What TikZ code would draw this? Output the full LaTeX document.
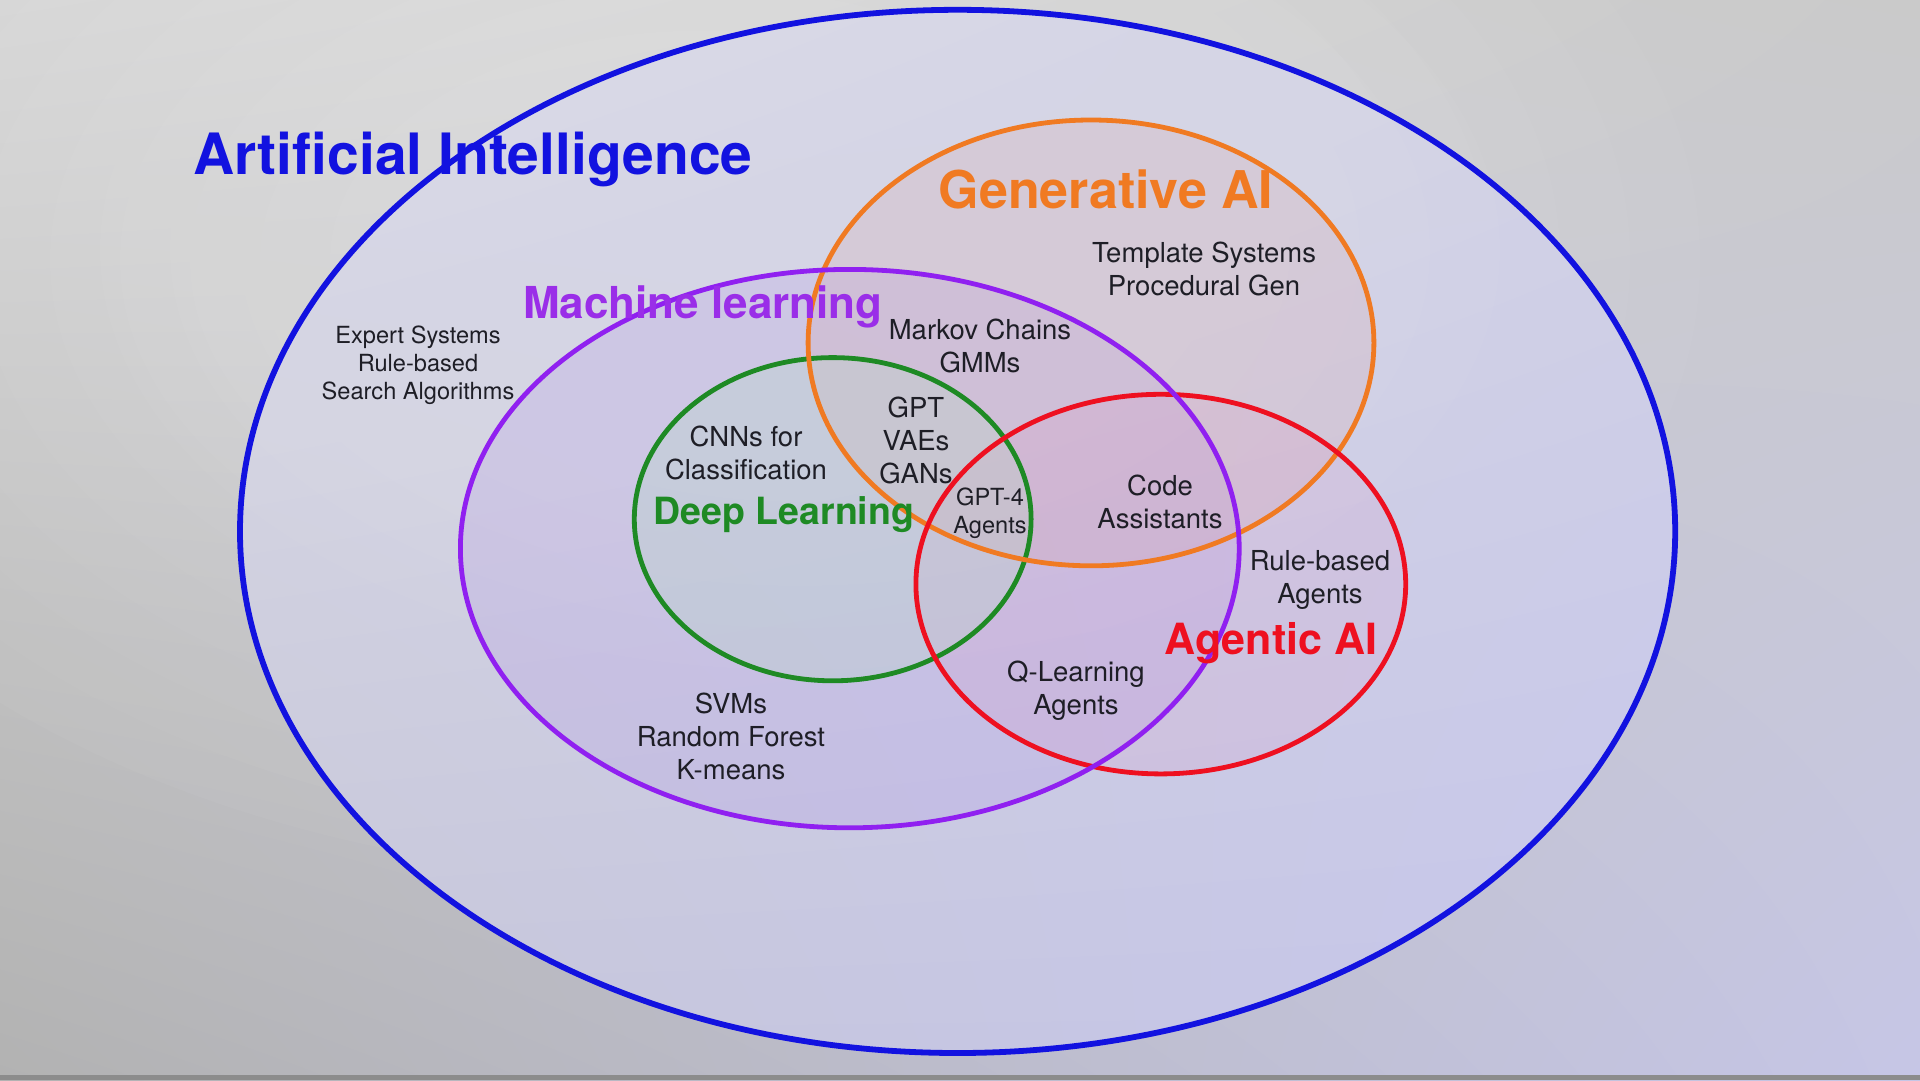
\documentclass[tikz,border=0pt]{standalone}
\usepackage{fontspec}
\usetikzlibrary{shadings}
\setmainfont{TeX Gyre Heros}
\definecolor{aiblue}{HTML}{1212E0}
\definecolor{genorange}{HTML}{F07A22}
\definecolor{mlpurple}{HTML}{9020F0}
\definecolor{mltext}{HTML}{9A2EE8}
\definecolor{dlgreen}{HTML}{1E8A24}
\definecolor{agred}{HTML}{EE1020}
\definecolor{txt}{HTML}{1E1E26}
\definecolor{bgUL}{HTML}{D4D4D4}
\definecolor{bgUR}{HTML}{CACACA}
\definecolor{bgLL}{HTML}{B2B2B2}
\definecolor{bgLR}{HTML}{C6C6E6}
\definecolor{aiUL}{HTML}{DCDCE8}
\definecolor{aiUR}{HTML}{D2D2E4}
\definecolor{aiLL}{HTML}{C6C6D8}
\definecolor{aiLR}{HTML}{C6C6EC}
\definecolor{stripgray}{HTML}{8C8C8C}
\definecolor{mlfill}{HTML}{B090E8}
\definecolor{genfill}{HTML}{D8A0A0}
\definecolor{agfill}{HTML}{E090C0}
\definecolor{dlfill}{HTML}{B8D8C8}
\begin{document}
\begin{tikzpicture}[x=1pt,y=-1pt,
  ttl/.style={font=\bfseries\fontsize{#1}{#1}\selectfont, anchor=base, inner sep=0pt},
  body/.style={font=\fontsize{27.5}{33}\selectfont, text=txt, anchor=base, inner sep=0pt},
  small/.style={font=\fontsize{23.6}{28}\selectfont, text=txt, anchor=base, inner sep=0pt},
  ring/.style={line width=4.8pt}]
\useasboundingbox (0,0) rectangle (1920,1080);
% background
\shade[upper left=bgUL, upper right=bgUR, lower left=bgLL, lower right=bgLR] (0,0) rectangle (1920,1080);
\foreach \s in {1.0,0.93,...,0.3}
  \fill[white, fill opacity=0.03] (700,260) ellipse [x radius=1000*\s, y radius=620*\s];
\fill[stripgray] (0,1075) rectangle (1920,1080);
% fills
\shade[upper left=aiUL, upper right=aiUR, lower left=aiLL, lower right=aiLR] (957.6,531.4) ellipse [x radius=717.6, y radius=521.6];
\foreach \s in {1.0,0.9,...,0.3}
  \fill[white, fill opacity=0.025] (800,250) ellipse [x radius=700*\s, y radius=420*\s];
\fill[mlfill, fill opacity=0.2] (849.8,548.6) ellipse [x radius=389.4, y radius=279.2];
\fill[genfill, fill opacity=0.2] (1091,342.9) ellipse [x radius=282.9, y radius=222.9];
\fill[agfill, fill opacity=0.15] (1160.8,584.1) ellipse [x radius=244.9, y radius=189.8];
\fill[dlfill, fill opacity=0.3] (832.7,519.2) ellipse [x radius=198.4, y radius=161.6];
% rings
\draw[ring, aiblue, line width=5.8pt] (957.6,531.4) ellipse [x radius=717.6, y radius=521.6];
\draw[ring, dlgreen] (832.7,519.2) ellipse [x radius=198.4, y radius=161.6];
\draw[ring, genorange] (1091,342.9) ellipse [x radius=282.9, y radius=222.9];
\draw[ring, agred] (1160.8,584.1) ellipse [x radius=244.9, y radius=189.8];
\draw[ring, mlpurple] (849.8,548.6) ellipse [x radius=389.4, y radius=279.2];
% titles
\node[ttl=57, text=aiblue] (tai) at (473,174) {Artificial Intelligence};
\node[ttl=52, text=genorange] (tgen) at (1106,208) {Generative AI};
\node[ttl=44, text=mltext] (tml) at (703,318) {Machine learning};
\node[ttl=37.5, text=dlgreen] (tdl) at (784,524) {Deep Learning};
\node[ttl=43, text=agred] (tag) at (1271,654) {Agentic AI};
% texts
\node[small] (es1) at (418,343) {Expert Systems};
\node[small] (es2) at (418,371) {Rule-based};
\node[small] (es3) at (418,399) {Search Algorithms};
\node[body] (tp1) at (1204,262) {Template Systems};
\node[body] (tp2) at (1204,295) {Procedural Gen};
\node[body] (mk1) at (980,339) {Markov Chains};
\node[body] (mk2) at (980,372) {GMMs};
\node[body] (cn1) at (746,446) {CNNs for};
\node[body] (cn2) at (746,479) {Classification};
\node[body] (gp1) at (916,417) {GPT};
\node[body] (gp2) at (916,450) {VAEs};
\node[body] (gp3) at (916,483) {GANs};
\node[small] (g41) at (990,505) {GPT-4};
\node[small] (g42) at (990,533) {Agents};
\node[body] (cd1) at (1160,495) {Code};
\node[body] (cd2) at (1160,528) {Assistants};
\node[body] (rb1) at (1320,570) {Rule-based};
\node[body] (rb2) at (1320,603) {Agents};
\node[body] (ql1) at (1076,681) {Q-Learning};
\node[body] (ql2) at (1076,714) {Agents};
\node[body] (sv1) at (731,713) {SVMs};
\node[body] (sv2) at (731,746) {Random Forest};
\node[body] (sv3) at (731,779) {K-means};
\end{tikzpicture}
\end{document}
